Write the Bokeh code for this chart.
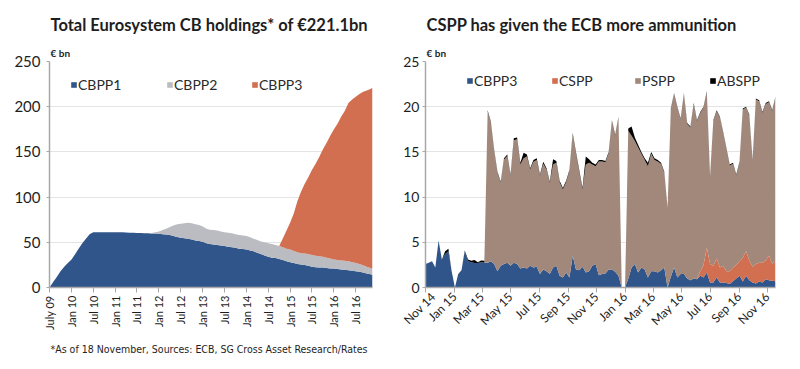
from math import pi
import pandas as pd
from bokeh.plotting import figure
from bokeh.layouts import row
from bokeh.models import ColumnDataSource, Range1d, FixedTicker, Title, Legend, LegendItem
from bokeh.embed import file_html
from bokeh.resources import INLINE

# ---------------------------------------------------------------------------
# Left chart: Eurosystem covered bond holdings (EUR bn), month starts from
# Jul 2009 to Nov 2016 plus the final reading of 18 Nov 2016
# ---------------------------------------------------------------------------
months = list(pd.date_range("2009-07-01", "2016-11-01", freq="MS")) + [pd.Timestamp("2016-11-18")]

cbpp1 = [
    0, 6, 12, 18, 23, 27,                                        # 2009 H2
    31, 37, 43, 49, 54, 59, 61, 61, 61, 61, 61, 61,              # 2010
    61, 61, 61, 60.8, 60.7, 60.5, 60.4, 60.2, 60, 60, 59.8, 59.6,  # 2011
    59.4, 59, 58.5, 58, 57, 56, 55, 54.5, 54, 53, 52, 51.5,      # 2012
    50.5, 49, 48, 47.5, 47, 46.5, 46, 45, 44.5, 44, 43, 42.5,    # 2013
    42, 41, 40, 38.5, 37, 35.5, 34, 33, 32.5, 31.5, 30.5, 29,    # 2014
    28, 27, 26, 25.5, 25, 24, 23, 22.5, 22, 22, 21.5, 21,        # 2015
    21, 20.5, 20, 19.5, 19, 18.5, 18, 17.5, 16.5, 15.5, 14.7, 14,  # 2016 + 18 Nov
]
cbpp2 = [
    0, 0, 0, 0, 0, 0,
    0, 0, 0, 0, 0, 0, 0, 0, 0, 0, 0, 0,
    0, 0, 0, 0, 0, 0, 0, 0, 0, 0, 0.5, 1.5,
    2.5, 4.5, 6.5, 9, 11.5, 14, 15.5, 16.5, 17.5, 18, 18, 17.5,
    17, 16, 16, 16, 16, 15.5, 15, 15.5, 15.5, 15, 15, 15,
    15, 14.5, 14, 14, 14, 14.5, 15, 15, 14.5, 14.5, 14, 14,
    14, 13.5, 13, 12.5, 12.5, 13, 13, 12.5, 12.5, 12, 11.5, 11,
    10, 10, 10, 10, 10, 9.5, 9, 8.5, 8, 7.5, 6.8, 6.5,
]
cbpp3 = [
    0, 0, 0, 0, 0, 0,
    0, 0, 0, 0, 0, 0, 0, 0, 0, 0, 0, 0,
    0, 0, 0, 0, 0, 0, 0, 0, 0, 0, 0, 0,
    0, 0, 0, 0, 0, 0, 0, 0, 0, 0, 0, 0,
    0, 0, 0, 0, 0, 0, 0, 0, 0, 0, 0, 0,
    0, 0, 0, 0, 0, 0, 0, 0, 0, 0, 10, 20,
    30, 42, 56, 68, 77, 85, 94, 102, 110, 119, 127, 136,
    144, 151, 159, 166, 175, 180, 184, 188, 192, 195, 198, 200.6,
]

left_tick_dates = ["2009-07-01", "2010-01-01", "2010-07-01", "2011-01-01", "2011-07-01",
                   "2012-01-01", "2012-07-01", "2013-01-01", "2013-07-01", "2014-01-01",
                   "2014-07-01", "2015-01-01", "2015-07-01", "2016-01-01", "2016-07-01"]
left_tick_labels = ["July 09", "Jan 10", "Jul 10", "Jan 11", "Jul 11", "Jan 12", "Jul 12",
                    "Jan 13", "Jul 13", "Jan 14", "Jul 14", "Jan 15", "Jul 15", "Jan 16", "Jul 16"]
left_series = ["CBPP1", "CBPP2", "CBPP3"]

# ---------------------------------------------------------------------------
# Right chart: weekly purchases by programme (EUR bn), 31 Oct 2014 .. 18 Nov 2016
# ---------------------------------------------------------------------------
weeks = pd.date_range("2014-10-31", periods=108, freq="7D")

w_cbpp3 = [
    2.6, 2.75, 2.9, 2.2, 5.2, 3.1, 3.7, 4.0, 1.8, 0,
    1.5, 1.9, 4.0, 2.9, 2.8, 2.7, 2.7, 2.8, 2.75, 2.75,
    2.9, 2.6, 1.8, 2.4, 2.6, 2.75, 2.4, 2.75, 2.6, 2.1,
    2.2, 2.1, 2.4, 2.2, 2.3, 1.5, 2.0, 1.8, 1.5, 2.2,
    2.4, 1.3, 1.1, 1.65, 1.1, 3.5, 2.0, 1.9, 2.3, 1.65,
    1.8, 2.4, 2.6, 1.35, 1.5, 1.55, 2.0, 2.0, 1.75, 1.3,
    0, 0, 1.0, 2.2, 2.6, 1.65, 2.2, 2.0, 1.1, 1.8,
    1.8, 1.65, 1.9, 2.2, 0, 1.2, 2.2, 1.1, 1.5, 1.5,
    1.0, 0.8, 1.0, 0.9, 1.3, 1.1, 1.65, 0.55, 0.55, 1.1,
    0.55, 0.55, 0.5, 0.4, 0.7, 1.0, 1.3, 0.65, 1.3, 0.8,
    0.55, 0.45, 0.65, 0.55, 0.9, 0.8, 0.75, 0.7,
]
w_cspp = [0] * 84 + [
    0.5, 1.4, 2.75, 2.05, 1.85, 2.1,
    1.65, 1.85, 1.3, 1.4, 1.5, 1.5, 1.6, 2.65, 2.7, 2.2,
    1.75, 2.15, 2.1, 2.2, 2.1, 2.7, 1.85, 2.2,
]
w_pspp = [0] * 19 + [
    16.75, 15.3, 12.5, 10.9, 9.2, 11.55, 11.8, 10.0, 13.55, 13.8, 11.5,
    12.1, 12.4, 10.65, 11.7, 11.8, 10.85, 11.7, 11.25, 10.05, 11.4,
    11.4, 10.35, 9.75, 10.0, 11.75, 13.45, 12.8, 10.9, 8.5, 11.95,
    12.0, 11.2, 10.8, 12.6, 12.45, 12.3, 12.85, 16.4, 15.05, 17.5,
    0, 0, 16.3, 14.6, 13.6, 13.85, 12.6, 12.1, 12.3, 13.0,
    12.3, 12.3, 11.75, 10.5, 8.7, 18.5, 19.2, 18.8, 17.1, 19.9,
    17.1, 16.9, 19.3, 17.5, 17.5, 17.4, 17.2, 9.6, 16.0, 16.3,
    16.6, 14.7, 13.5, 11.7, 11.5, 9.9, 10.9, 16.4, 15.9, 16.0,
    11.7, 18.2, 17.85, 16.55, 17.3, 17.0, 16.9, 18.1,
]
w_abspp = [
    0, 0, 0, 0, 0, 0, 0.3, 0.3, 0, 0,
    0, 0, 0.1, 0.2, 0.15, 0.35, 0.1, 0.2, 0.2, 0.1,
    0.1, 0.1, 0.1, 0.1, 0.15, 0.15, 0.1, 0.2, 0.2, 0.2,
    0.6, 0.2, 0.15, 0.2, 0.2, 0.15, 0.2, 0.15, 0.15, 0.6,
    0.2, 0.15, 0.15, 0.15, 0.15, 0.15, 0.2, 0.2, 0.2, 0.9,
    0.4, 0.2, 0.2, 0.15, 0.15, 0.15, 0.15, 0.1, 0.1, 0.1,
    0, 0, 0.3, 1.0, 0.4, 0.3, 0.2, 0.2, 0.4, 0.2,
    0.2, 0.15, 0.15, 0.1, 0.1, 0.1, 0.1, 0.1, 0.1, 0.1,
    0.1, 0.1, 0.1, 0.1, 0.1, 0.1, 0.1, 0.1, 0.1, 0.1,
    0.1, 0.1, 0.1, 0.1, 0.1, 0.1, 0.1, 0.1, 0.1, 0.1,
    0.1, 0.1, 0.1, 0.1, 0.1, 0.1, 0.1, 0.1,
]

right_tick_dates = ["2014-11-01", "2015-01-01", "2015-03-01", "2015-05-01", "2015-07-01",
                    "2015-09-01", "2015-11-01", "2016-01-01", "2016-03-01", "2016-05-01",
                    "2016-07-01", "2016-09-01", "2016-11-01"]
right_tick_labels = ["Nov 14", "Jan 15", "Mar 15", "May 15", "Jul 15", "Sep 15", "Nov 15",
                     "Jan 16", "Mar 16", "May 16", "Jul 16", "Sep 16", "Nov 16"]
right_series = ["CBPP3", "CSPP", "PSPP", "ABSPP"]

# ---------------------------------------------------------------------------
BLUE, GREY, ORANGE, TAUPE, BLACK = "#30558a", "#babcc1", "#d26f50", "#a1887a", "#000000"
TEXT = "#1e1e1e"
FONT = "Lato"


def ms(d):
    return int(pd.Timestamp(d).timestamp() * 1000)


def style_axes(p, yticks, ylabel_size):
    p.outline_line_color = None
    p.background_fill_color = "white"
    p.border_fill_color = "white"
    p.xgrid.visible = False
    p.ygrid.grid_line_color = "#e4e4e4"
    p.ygrid.grid_line_width = 1
    p.yaxis.ticker = FixedTicker(ticks=yticks)
    for ax in (p.xaxis[0], p.yaxis[0]):
        ax.axis_line_color = "#a8a8a8"
        ax.axis_line_width = 1.5
        ax.major_tick_line_color = "#a8a8a8"
        ax.major_tick_in = 0
        ax.minor_tick_line_color = None
        ax.major_label_text_font = FONT
        ax.major_label_text_color = TEXT
    p.yaxis.major_tick_out = 3
    p.yaxis.major_label_text_font_size = ylabel_size
    p.xaxis.major_tick_out = 5


def add_title(p, text, size, side, standoff, bold=False, font=FONT):
    p.add_layout(Title(text=text, align="left", offset=1, standoff=standoff,
                       text_font=font, text_font_size=size,
                       text_font_style="bold" if bold else "normal",
                       text_color=TEXT), side)


def add_key(p, renderer, name, x, y, size):
    lg = Legend(items=[LegendItem(label=name, renderers=[renderer])], location=(x, y),
                orientation="horizontal", padding=0, margin=0, spacing=0,
                glyph_width=7, glyph_height=7, label_standoff=1, label_height=12,
                label_text_font=FONT, label_text_font_size=size, label_text_color="#2a2a2a",
                border_line_color=None, background_fill_alpha=0)
    p.add_layout(lg)


# ----------------------------- left figure ---------------------------------
src_l = ColumnDataSource(dict(x=[ms(d) for d in months], CBPP1=cbpp1, CBPP2=cbpp2, CBPP3=cbpp3))
pl = figure(width=400, height=369, output_backend="svg", toolbar_location=None, title=None,
            x_range=Range1d(ms("2009-07-01"), ms("2016-11-18")), y_range=Range1d(0, 250),
            min_border_left=49, min_border_right=28, min_border_top=61, min_border_bottom=80)
rl = pl.varea_stack(stackers=left_series, x="x", color=[BLUE, GREY, ORANGE], source=src_l)
style_axes(pl, [0, 50, 100, 150, 200, 250], "15px")
pl.yaxis.major_label_standoff = 6
lt = [ms(d) for d in left_tick_dates]
pl.xaxis.ticker = FixedTicker(ticks=lt)
pl.xaxis.major_label_overrides = dict(zip(lt, left_tick_labels))
pl.xaxis.major_label_orientation = pi / 2
pl.xaxis.major_label_text_font_size = "11px"
pl.xaxis.major_label_standoff = 3

# above panels stack outward from the frame: unit label first, then the heading
add_title(pl, "\u20ac bn", "10px", "above", 6, bold=True)
add_title(pl, "Total Eurosystem CB holdings* of \u20ac221.1bn", "16.5px", "above", 14, bold=True)
add_title(pl, "*As of 18 November, Sources: ECB, SG Cross Asset Research/Rates", "10.5px",
          "below", 17, font="DejaVu Sans Condensed")
for r, name, x in zip(rl, left_series, [21, 117, 202]):
    add_key(pl, r, name, x, 194, "14px")

# ----------------------------- right figure --------------------------------
src_r = ColumnDataSource(dict(x=[ms(d) for d in weeks], CBPP3=w_cbpp3, CSPP=w_cspp,
                              PSPP=w_pspp, ABSPP=w_abspp))
pr = figure(width=400, height=369, output_backend="svg", toolbar_location=None, title=None,
            x_range=Range1d(ms("2014-10-31"), ms("2016-11-18")), y_range=Range1d(0, 25),
            min_border_left=24, min_border_right=25, min_border_top=61, min_border_bottom=82)
rr = pr.varea_stack(stackers=right_series, x="x", color=[BLUE, ORANGE, TAUPE, BLACK], source=src_r)
style_axes(pr, [0, 5, 10, 15, 20, 25], "14px")
pr.yaxis.major_label_standoff = 3
rt = [ms(d) for d in right_tick_dates]
pr.xaxis.ticker = FixedTicker(ticks=rt)
pr.xaxis.major_label_overrides = dict(zip(rt, right_tick_labels))
pr.xaxis.major_label_orientation = pi / 4
pr.xaxis.major_label_text_font_size = "12px"
pr.xaxis.major_label_standoff = 2

add_title(pr, "\u20ac bn", "10px", "above", 6, bold=True)
add_title(pr, "CSPP has given the ECB more ammunition", "16.5px", "above", 14, bold=True)
for r, name, x in zip(rr, right_series, [41, 126, 209, 284]):
    add_key(pr, r, name, x, 198, "14px")

layout = row(pl, pr)
open("out.html", "w").write(file_html(layout, INLINE))
